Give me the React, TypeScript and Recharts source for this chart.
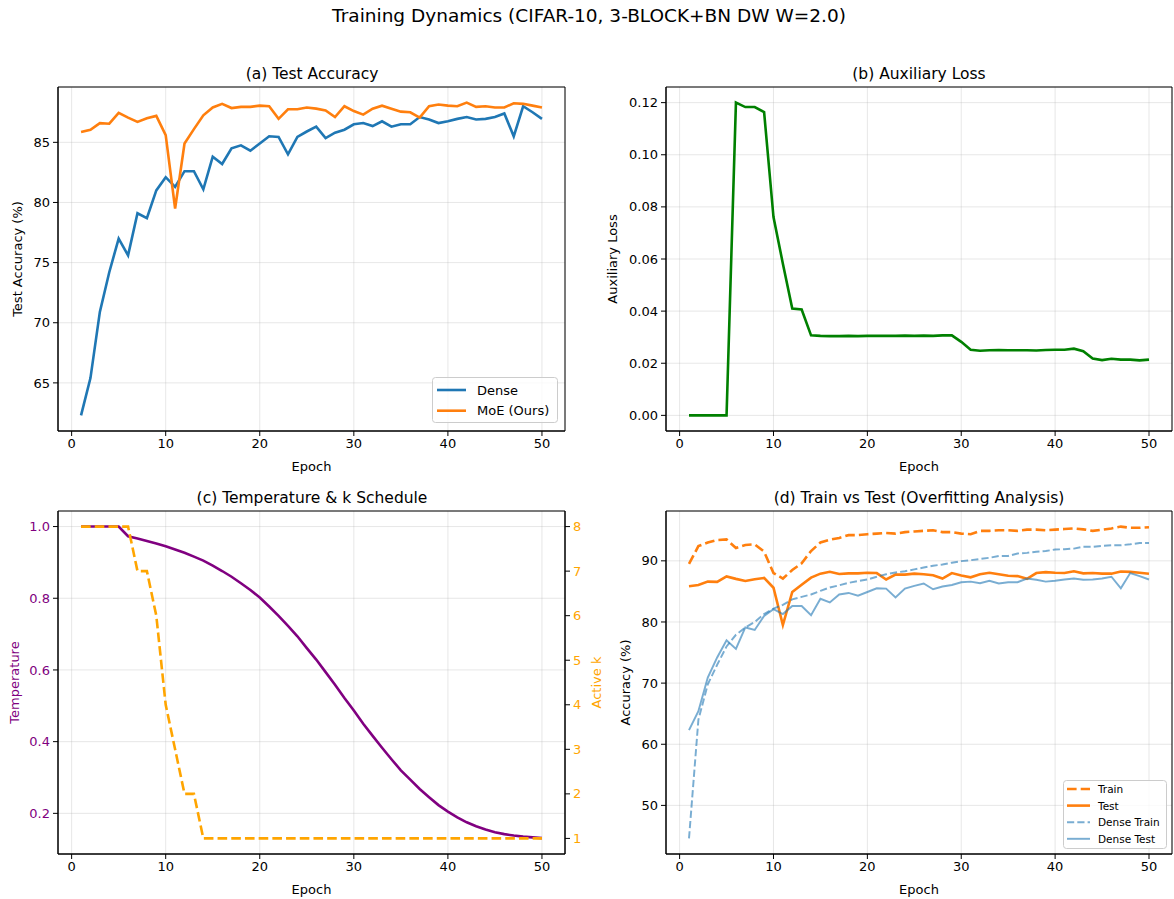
import React from 'react';
import { LineChart, Line, XAxis, YAxis, CartesianGrid, ReferenceArea } from 'recharts';

// epochs 1..50
const epochs = [
  1, 2, 3, 4, 5, 6, 7, 8, 9, 10, 11, 12, 13, 14, 15, 16, 17, 18, 19, 20, 21, 22, 23, 24, 25,
  26, 27, 28, 29, 30, 31, 32, 33, 34, 35, 36, 37, 38, 39, 40, 41, 42, 43, 44, 45, 46, 47, 48, 49, 50,
];

const denseTest = [
  62.3, 65.4, 70.9, 74.2, 77.0, 75.6, 79.1, 78.7, 81.0, 82.1, 81.3, 82.6, 82.6, 81.1, 83.8, 83.2, 84.5,
  84.75, 84.3, 84.9, 85.5, 85.45, 84.0, 85.45, 85.9, 86.3, 85.35, 85.8, 86.05, 86.5, 86.6, 86.35, 86.75,
  86.3, 86.5, 86.5, 87.1, 86.9, 86.6, 86.75, 86.95, 87.1, 86.9, 86.95, 87.1, 87.4, 85.5, 88.0, 87.5, 86.95,
];

const moeTest = [
  85.85, 86.05, 86.6, 86.55, 87.45, 87.05, 86.7, 87.0, 87.2, 85.6, 79.5, 84.9, 86.1, 87.25, 87.9, 88.2,
  87.85, 87.95, 87.95, 88.05, 88.0, 86.95, 87.75, 87.75, 87.9, 87.8, 87.65, 87.1, 88.0, 87.6, 87.3, 87.8,
  88.05, 87.8, 87.55, 87.5, 87.05, 88.0, 88.15, 88.05, 88.0, 88.3, 87.95, 88.0, 87.9, 87.9, 88.25, 88.2,
  88.05, 87.9,
];

const auxLoss = [
  0, 0, 0, 0, 0, 0.12, 0.1183, 0.1183, 0.1164, 0.0761, 0.0582, 0.041, 0.0406, 0.0307, 0.0305, 0.0304,
  0.0304, 0.0305, 0.0304, 0.0305, 0.0305, 0.0305, 0.0305, 0.0306, 0.0305, 0.0306, 0.0305, 0.0307, 0.0307,
  0.0282, 0.0252, 0.0248, 0.025, 0.0251, 0.025, 0.025, 0.025, 0.0249, 0.0251, 0.0252, 0.0252, 0.0256,
  0.0246, 0.0218, 0.0212, 0.0217, 0.0214, 0.0214, 0.0211, 0.0214,
];

const temperature = [
  1.0, 1.0, 1.0, 1.0, 1.0, 0.973, 0.967, 0.96, 0.953, 0.945, 0.936, 0.927, 0.916, 0.905, 0.891, 0.876,
  0.86, 0.842, 0.823, 0.802, 0.777, 0.751, 0.723, 0.694, 0.661, 0.629, 0.594, 0.559, 0.522, 0.487, 0.45,
  0.416, 0.383, 0.351, 0.32, 0.294, 0.268, 0.245, 0.223, 0.205, 0.189, 0.175, 0.164, 0.155, 0.147, 0.142,
  0.138, 0.135, 0.133, 0.131,
];

const activeK = [
  8, 8, 8, 8, 8, 8, 7, 7, 6, 4, 3, 2, 2, 1, 1, 1, 1, 1, 1, 1, 1, 1, 1, 1, 1,
  1, 1, 1, 1, 1, 1, 1, 1, 1, 1, 1, 1, 1, 1, 1, 1, 1, 1, 1, 1, 1, 1, 1, 1, 1,
];

const moeTrain = [
  89.5, 92.4, 93.0, 93.4, 93.5, 92.1, 92.6, 92.7, 91.5, 88.0, 87.1, 88.5, 89.6, 91.6, 93.0, 93.45, 93.75,
  94.2, 94.2, 94.35, 94.45, 94.55, 94.45, 94.7, 94.8, 94.9, 95.0, 94.7, 94.7, 94.45, 94.35, 94.9, 94.9,
  95.0, 95.0, 94.9, 95.1, 95.1, 95.0, 95.1, 95.2, 95.3, 95.15, 94.9, 95.1, 95.3, 95.6, 95.4, 95.4, 95.5,
];

const denseTrain = [
  44.6, 64.0, 69.8, 73.0, 76.0, 77.9, 79.1, 80.0, 81.3, 82.2, 82.8, 83.7, 84.1, 84.5, 85.1, 85.65, 86.0,
  86.4, 86.7, 86.95, 87.4, 87.8, 88.1, 88.3, 88.6, 88.9, 89.2, 89.4, 89.7, 89.95, 90.1, 90.3, 90.5, 90.8,
  90.8, 91.2, 91.3, 91.5, 91.6, 91.85, 91.9, 92.0, 92.3, 92.3, 92.45, 92.55, 92.55, 92.7, 92.9, 92.9,
];

const epochTicks = [0, 10, 20, 30, 40, 50];
const accTicks = [65, 70, 75, 80, 85];
const auxTicks = [0, 0.02, 0.04, 0.06, 0.08, 0.1, 0.12];
const tempTicks = [0.2, 0.4, 0.6, 0.8, 1.0];
const kTicks = [1, 2, 3, 4, 5, 6, 7, 8];
const overfitTicks = [50, 60, 70, 80, 90];

const rows = epochs.map((epoch, i) => ({
  epoch,
  dense: denseTest[i],
  moe: moeTest[i],
  aux: auxLoss[i],
  temp: temperature[i],
  k: activeK[i],
  train: moeTrain[i],
  denseTrain: denseTrain[i],
}));

// axis ranges (matplotlib style 5% padding)
const xDomain: [number, number] = [-1.45, 52.45];
const accDomain: [number, number] = [61.0, 89.6];
const auxDomain: [number, number] = [-0.006, 0.126];
const tempDomain: [number, number] = [0.0866, 1.0434];
const kDomain: [number, number] = [0.65, 8.35];
const overfitDomain: [number, number] = [42.05, 98.15];

const FONT = '"DejaVu Sans", sans-serif';
const BLUE = '#1f77b4';
const ORANGE = '#ff7f0e';
const GREEN = '#008000';
const PURPLE = '#800080';
const GOLD = '#ffa500';
const LW = 2.6;
const THIN = 1.95;
const DASH = '9.6 4.1';
const THIN_DASH = '7.2 3.1';

const tickStyle = { fontSize: 13, fill: '#000', fontFamily: FONT };
const labelStyle = { fontSize: 13, fill: '#000', fontFamily: FONT, textAnchor: 'middle' as const };
const black = { stroke: '#000', strokeWidth: 1 };

type LegendItem = { name: string; color: string; width: number; dash?: string; opacity?: number };

const legendA: LegendItem[] = [
  { name: 'Dense', color: BLUE, width: LW },
  { name: 'MoE (Ours)', color: ORANGE, width: LW },
];

const legendD: LegendItem[] = [
  { name: 'Train', color: ORANGE, width: LW, dash: DASH },
  { name: 'Test', color: ORANGE, width: LW },
  { name: 'Dense Train', color: BLUE, width: THIN, dash: THIN_DASH, opacity: 0.6 },
  { name: 'Dense Test', color: BLUE, width: THIN, opacity: 0.6 },
];

function LegendBox(props: {
  items: LegendItem[];
  left: number;
  top: number;
  width: number;
  height: number;
  fontSize: number;
  firstRow: number;
  rowGap: number;
  swatch: [number, number];
  textX: number;
}) {
  const { items, left, top, width, height, fontSize, firstRow, rowGap, swatch, textX } = props;
  return (
    <svg
      width={width + 2}
      height={height + 2}
      style={{ position: 'absolute', left: left - 1, top: top - 1, overflow: 'visible' }}
    >
      <rect x={1.5} y={1.5} width={width - 1} height={height - 1} rx={3} fill="rgba(255,255,255,0.8)" stroke="#cccccc" />
      {items.map((it, i) => {
        const cy = 1 + firstRow + i * rowGap;
        return (
          <g key={it.name}>
            <line
              x1={1 + swatch[0]}
              x2={1 + swatch[1]}
              y1={cy}
              y2={cy}
              stroke={it.color}
              strokeWidth={it.width}
              strokeDasharray={it.dash}
              strokeOpacity={it.opacity ?? 1}
            />
            <text x={1 + textX} y={cy} dominantBaseline="central" fontSize={fontSize} fontFamily={FONT} fill="#000">
              {it.name}
            </text>
          </g>
        );
      })}
    </svg>
  );
}

export default function App() {
  return (
    <div style={{ position: 'absolute', left: 0, top: 0, width: 1174, height: 899, background: '#fff', fontFamily: FONT }}>
      <svg width={1174} height={899} style={{ position: 'absolute', left: 0, top: 0 }}>
        <text x={589} y={22} textAnchor="middle" fontSize={18.5} fontFamily={FONT} fill="#000">
          Training Dynamics (CIFAR-10, 3-BLOCK+BN DW W=2.0)
        </text>
        <text x={312} y={79} textAnchor="middle" fontSize={15.5} fontFamily={FONT} fill="#000">
          (a) Test Accuracy
        </text>
        <text x={919} y={79} textAnchor="middle" fontSize={15.5} fontFamily={FONT} fill="#000">
          (b) Auxiliary Loss
        </text>
        <text x={312} y={503} textAnchor="middle" fontSize={15.5} fontFamily={FONT} fill="#000">
          (c) Temperature &amp; k Schedule
        </text>
        <text x={919} y={503} textAnchor="middle" fontSize={15.5} fontFamily={FONT} fill="#000">
          (d) Train vs Test (Overfitting Analysis)
        </text>
      </svg>

      {/* (a) test accuracy */}
      <div style={{ position: 'absolute', left: 0, top: 60 }}>
        <LineChart width={580} height={420} data={rows} margin={{ top: 27, right: 15, bottom: 9, left: 0 }}>
          <CartesianGrid stroke="#b0b0b0" strokeOpacity={0.3} strokeWidth={1} />
          <XAxis
            dataKey="epoch" type="number" domain={xDomain} allowDataOverflow ticks={epochTicks} interval={0}
            height={40} tick={tickStyle} tickLine={black} axisLine={black} tickSize={5} tickMargin={3}
            label={{ value: 'Epoch', position: 'insideBottom', offset: 0, style: labelStyle }}
          />
          <YAxis
            type="number" domain={accDomain} allowDataOverflow ticks={accTicks} interval={0} width={58}
            tick={tickStyle} tickLine={black} axisLine={black} tickSize={5} tickMargin={3}
            label={{ value: 'Test Accuracy (%)', angle: -90, position: 'insideLeft', offset: 17, style: labelStyle }}
          />
          <Line type="linear" dataKey="dense" name="Dense" stroke={BLUE} strokeWidth={LW} dot={false} activeDot={false} isAnimationActive={false} />
          <Line type="linear" dataKey="moe" name="MoE (Ours)" stroke={ORANGE} strokeWidth={LW} dot={false} activeDot={false} isAnimationActive={false} />
          <ReferenceArea x1={xDomain[0]} x2={xDomain[1]} y1={accDomain[0]} y2={accDomain[1]} fill="none" stroke="#000" strokeWidth={1} ifOverflow="visible" />
        </LineChart>
      </div>
      <LegendBox items={legendA} left={432} top={377} width={126} height={46} fontSize={13} firstRow={13} rowGap={20.7} swatch={[5, 34]} textX={45} />

      {/* (b) auxiliary loss */}
      <div style={{ position: 'absolute', left: 590, top: 60 }}>
        <LineChart width={584} height={420} data={rows} margin={{ top: 27, right: 2, bottom: 9, left: 0 }}>
          <CartesianGrid stroke="#b0b0b0" strokeOpacity={0.3} strokeWidth={1} />
          <XAxis
            dataKey="epoch" type="number" domain={xDomain} allowDataOverflow ticks={epochTicks} interval={0}
            height={40} tick={tickStyle} tickLine={black} axisLine={black} tickSize={5} tickMargin={3}
            label={{ value: 'Epoch', position: 'insideBottom', offset: 0, style: labelStyle }}
          />
          <YAxis
            type="number" domain={auxDomain} allowDataOverflow ticks={auxTicks} interval={0} width={76}
            tick={tickStyle} tickLine={black} axisLine={black} tickSize={5} tickMargin={3}
            tickFormatter={(v: number) => v.toFixed(2)}
            label={{ value: 'Auxiliary Loss', angle: -90, position: 'insideLeft', offset: 22, style: labelStyle }}
          />
          <Line type="linear" dataKey="aux" stroke={GREEN} strokeWidth={LW} dot={false} activeDot={false} isAnimationActive={false} />
          <ReferenceArea x1={xDomain[0]} x2={xDomain[1]} y1={auxDomain[0]} y2={auxDomain[1]} fill="none" stroke="#000" strokeWidth={1} ifOverflow="visible" />
        </LineChart>
      </div>

      {/* (c) temperature & k schedule */}
      <div style={{ position: 'absolute', left: 0, top: 480 }}>
        <LineChart width={606} height={420} data={rows} margin={{ top: 31, right: 0, bottom: 6, left: 0 }}>
          <CartesianGrid stroke="#b0b0b0" strokeOpacity={0.3} strokeWidth={1} />
          <XAxis
            dataKey="epoch" type="number" domain={xDomain} allowDataOverflow ticks={epochTicks} interval={0}
            height={40} tick={tickStyle} tickLine={black} axisLine={black} tickSize={5} tickMargin={3}
            label={{ value: 'Epoch', position: 'insideBottom', offset: 0, style: labelStyle }}
          />
          <YAxis
            type="number" domain={tempDomain} allowDataOverflow ticks={tempTicks} interval={0} width={58}
            tick={{ ...tickStyle, fill: PURPLE }} tickLine={black} axisLine={black} tickSize={5} tickMargin={3}
            tickFormatter={(v: number) => v.toFixed(1)}
            label={{ value: 'Temperature', angle: -90, position: 'insideLeft', offset: 14, style: { ...labelStyle, fill: PURPLE } }}
          />
          <YAxis
            yAxisId="k" orientation="right" type="number" domain={kDomain} allowDataOverflow ticks={kTicks} interval={0} width={41}
            tick={{ ...tickStyle, fill: GOLD }} tickLine={black} axisLine={black} tickSize={5} tickMargin={3}
            label={{ value: 'Active k', angle: -90, position: 'insideRight', offset: 10, style: { ...labelStyle, fill: GOLD } }}
          />
          <Line type="linear" dataKey="temp" stroke={PURPLE} strokeWidth={LW} dot={false} activeDot={false} isAnimationActive={false} />
          <Line type="linear" yAxisId="k" dataKey="k" stroke={GOLD} strokeWidth={LW} strokeDasharray={DASH} dot={false} activeDot={false} isAnimationActive={false} />
          <ReferenceArea x1={xDomain[0]} x2={xDomain[1]} y1={tempDomain[0]} y2={tempDomain[1]} fill="none" stroke="#000" strokeWidth={1} ifOverflow="visible" />
        </LineChart>
      </div>

      {/* (d) train vs test */}
      <div style={{ position: 'absolute', left: 590, top: 480 }}>
        <LineChart width={584} height={420} data={rows} margin={{ top: 31, right: 2, bottom: 6, left: 0 }}>
          <CartesianGrid stroke="#b0b0b0" strokeOpacity={0.3} strokeWidth={1} />
          <XAxis
            dataKey="epoch" type="number" domain={xDomain} allowDataOverflow ticks={epochTicks} interval={0}
            height={40} tick={tickStyle} tickLine={black} axisLine={black} tickSize={5} tickMargin={3}
            label={{ value: 'Epoch', position: 'insideBottom', offset: 0, style: labelStyle }}
          />
          <YAxis
            type="number" domain={overfitDomain} allowDataOverflow ticks={overfitTicks} interval={0} width={76}
            tick={tickStyle} tickLine={black} axisLine={black} tickSize={5} tickMargin={3}
            label={{ value: 'Accuracy (%)', angle: -90, position: 'insideLeft', offset: 35, style: labelStyle }}
          />
          <Line type="linear" dataKey="train" stroke={ORANGE} strokeWidth={LW} strokeDasharray={DASH} dot={false} activeDot={false} isAnimationActive={false} />
          <Line type="linear" dataKey="moe" stroke={ORANGE} strokeWidth={LW} dot={false} activeDot={false} isAnimationActive={false} />
          <Line type="linear" dataKey="denseTrain" stroke={BLUE} strokeOpacity={0.6} strokeWidth={THIN} strokeDasharray={THIN_DASH} dot={false} activeDot={false} isAnimationActive={false} />
          <Line type="linear" dataKey="dense" stroke={BLUE} strokeOpacity={0.6} strokeWidth={THIN} dot={false} activeDot={false} isAnimationActive={false} />
          <ReferenceArea x1={xDomain[0]} x2={xDomain[1]} y1={overfitDomain[0]} y2={overfitDomain[1]} fill="none" stroke="#000" strokeWidth={1} ifOverflow="visible" />
        </LineChart>
      </div>
      <LegendBox items={legendD} left={1063} top={780} width={104} height={69} fontSize={10.5} firstRow={9} rowGap={16.6} swatch={[4, 27]} textX={35} />
    </div>
  );
}
